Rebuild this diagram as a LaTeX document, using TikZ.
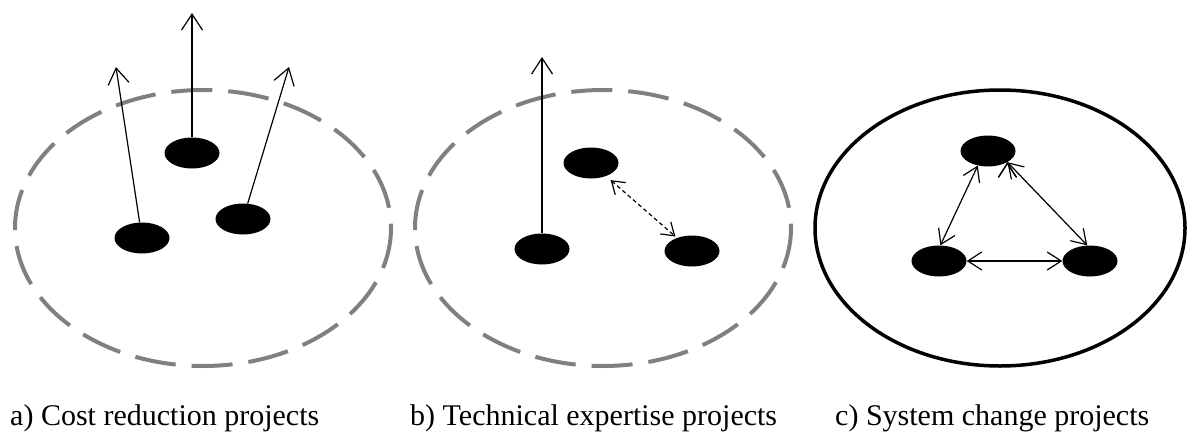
\documentclass[tikz,border=0pt]{standalone}
\usepackage{fontspec}
\setmainfont{Liberation Serif}
\usetikzlibrary{shapes.geometric, arrows.meta, positioning}
\definecolor{zonegray}{RGB}{128,128,128}
\tikzset{
x=1pt, y=-1pt, % one unit is one pixel of the layout
>={Straight Barb[length=16pt,width=21pt]}, % open arrow heads
project/.style={ellipse, fill=black, inner sep=0pt, minimum width=55pt, minimum height=31pt}, % the black projects
loosezone/.style={draw=zonegray, line width=4pt, dash pattern=on 41pt off 16pt}, % dashed boundary
closedzone/.style={draw=black, line width=3.5pt}, % solid boundary
link/.style={line width=1.2pt}, % connectors
caption/.style={anchor=base west, inner sep=0pt, font=\fontsize{30}{36}\selectfont}
}

\begin{document}
\begin{tikzpicture}
  \useasboundingbox (0,0) rectangle (1188,431);

  % a) cost reduction
  \draw[loosezone] (203,228) ellipse [x radius=188, y radius=138];
  \node[project] (a1) at (192,153) {};
  \node[project] (a2) at (142,238) {};
  \node[project] (a3) at (243,219) {};
  \coordinate (a1out) at (192,13);
  \coordinate (a2out) at (116,67);
  \coordinate (a3out) at (289,67);
  \draw[link, ->] (a1) edge (a1out)
  (a2) edge (a2out)
  (a3) edge (a3out);

  % b) technical expertise
  \draw[loosezone] (603,228) ellipse [x radius=188, y radius=138];
  \node[project] (b1) at (591,163) {};
  \node[project] (b2) at (542,249) {};
  \node[project] (b3) at (692,251) {};
  \coordinate (b2out) at (542,57);
  \draw[link, ->] (b2) -- (b2out);
  \draw[link, dash pattern=on 4pt off 3pt, <->, >={Straight Barb[length=12pt,width=16pt]},
    shorten <=6pt, shorten >=2pt] (b1) -- (b3);

  % c) system change
  \draw[closedzone] (1000,228) ellipse [x radius=185, y radius=138];
  \node[project] (c1) at (988,151) {};
  \node[project] (c2) at (939,261) {};
  \node[project] (c3) at (1090,261) {};
  \draw[link, <->, >={Straight Barb[length=14pt,width=18pt]}] (c1.-125) edge (c2.85)
  (c1.-30) edge (c3.100)
  (c2) edge (c3);

  % captions
  \node[caption] (capa) at (10,425) {a) Cost reduction projects};
  \node[caption] (capb) at (410,425) {b) Technical expertise projects};
  \node[caption] (capc) at (835,425) {c) System change projects};
\end{tikzpicture}
\end{document}
